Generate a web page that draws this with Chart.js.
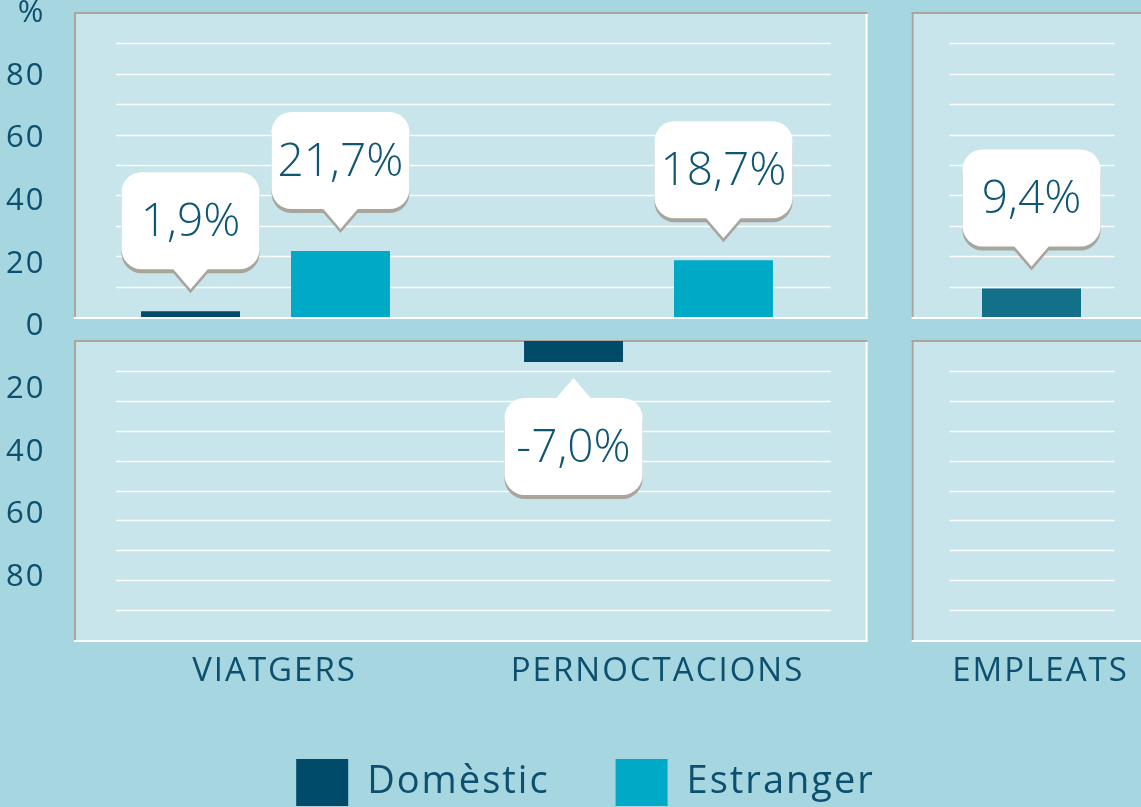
<!DOCTYPE html>
<html>
<head>
<meta charset="utf-8">
<script src="https://cdn.jsdelivr.net/npm/chart.js@4"></script>
<style>
  html, body { margin: 0; padding: 0; width: 1141px; height: 807px; overflow: hidden; background: #a6d7e1; }
  #wrap { position: absolute; left: -52.5px; top: 0; width: 1275px; height: 807px; }
</style>
</head>
<body>
<div id="wrap"><canvas id="chart"></canvas></div>
<script>
const categories = ['VIATGERS', 'PERNOCTACIONS', 'EMPLEATS'];
const domesticValues = [1.9, -7.0, null];
const foreignValues = [21.7, 18.7, null];
const employeeValues = [null, null, 9.4];
const tickValues = [-80, -60, -40, -20, 0, 20, 40, 60, 80, 100];
const tickLabels = ['80', '60', '40', '20', '0', '20', '40', '60', '80', '%'];

const textColor = '#0d4f6e';
const domesticColor = '#004a6a';
const foreignColor = '#00a9c5';
const employeeColor = '#137089';

Chart.defaults.font.family = '"Open Sans", sans-serif';

// domestic values go on the top or bottom panel depending on sign
const domesticUp = domesticValues.map(v => (v !== null && v >= 0) ? v : null);
const domesticDown = domesticValues.map(v => (v !== null && v < 0) ? v : null);

function fmt(v) {
    return v.toFixed(1).replace('.', ',') + '%';
}

// the original lettering is a bit wider than plain Open Sans,
// set it for measuring and for drawing so both agree
const spacing = {
    id: 'spacing',
    beforeLayout(chart) { chart.ctx.letterSpacing = '2px'; },
    beforeDraw(chart) { chart.ctx.letterSpacing = '2px'; }
};

const panels = {
    id: 'panels',
    beforeDatasetsDraw(chart) {
        const {ctx, chartArea, scales} = chart;
        const x = scales.x;
        const w = x.getPixelForValue(1) - x.getPixelForValue(0);
        const cols = [
            [chartArea.left, x.getPixelForValue(1) + 0.572 * w, 42, 37],
            [x.getPixelForValue(2) - 0.313 * w, x.getPixelForValue(2) + 0.313 * w, 38, 37]
        ];
        const rows = [scales.yTop, scales.yBot];
        ctx.save();
        cols.forEach(c => {
            rows.forEach(s => {
                const l = c[0], r = c[1], t = s.top, b = s.bottom;
                ctx.fillStyle = '#c8e5eb';
                ctx.fillRect(l, t, r - l, b - t);
                ctx.fillStyle = '#aaa69e';
                ctx.fillRect(l, t - 1, r - l, 2);
                ctx.fillRect(l, t - 1, 2, b - t + 1);
                ctx.fillStyle = '#ffffff';
                ctx.fillRect(l, b, r - l, 2);
                ctx.fillRect(r - 2, t + 1, 2, b - t + 1);
                // grid lines
                ctx.strokeStyle = 'rgba(255,255,255,0.95)';
                ctx.lineWidth = 1.5;
                s.ticks.forEach(tk => {
                    if (tk.value === s.min || tk.value === s.max) return;
                    const y = Math.round(s.getPixelForValue(tk.value)) + 0.5;
                    ctx.beginPath();
                    ctx.moveTo(l + c[2], y);
                    ctx.lineTo(r - c[3], y);
                    ctx.stroke();
                });
            });
        });
        ctx.restore();
    }
};

function callout(ctx, cx, tip, dir, text) {
    const w = 138, h = 97, r = 20, pw = 18, ph = 20;
    const boxTop = dir < 0 ? tip - ph - h : tip + ph;
    const baseY = dir < 0 ? tip - ph - 1 : tip + ph + 1;
    const shape = (dy) => {
        ctx.beginPath();
        ctx.roundRect(cx - w / 2, boxTop + dy, w, h, r);
        ctx.fill();
        ctx.beginPath();
        ctx.moveTo(cx - pw, baseY + dy);
        ctx.lineTo(cx, tip + dy);
        ctx.lineTo(cx + pw, baseY + dy);
        ctx.closePath();
        ctx.fill();
    };
    ctx.fillStyle = '#a9a59c';
    shape(4);
    ctx.fillStyle = '#ffffff';
    shape(0);
    ctx.letterSpacing = '0px';
    ctx.fillStyle = '#0e5674';
    ctx.font = '300 46px "Open Sans"';
    ctx.textAlign = 'center';
    ctx.textBaseline = 'middle';
    ctx.fillText(text, cx, boxTop + h / 2 + 2);
}

const labels = {
    id: 'labels',
    afterDatasetsDraw(chart) {
        const ctx = chart.ctx;
        ctx.save();
        chart.data.datasets.forEach((ds, i) => {
            const meta = chart.getDatasetMeta(i);
            meta.data.forEach((bar, j) => {
                const v = ds.data[j];
                if (v === null) return;
                if (v >= 0) {
                    callout(ctx, bar.x, bar.y - 22, -1, fmt(v));
                } else {
                    callout(ctx, bar.x, bar.y + 16, 1, fmt(v));
                }
            });
        });
        ctx.restore();
    }
};

const hiddenAxis = {
    position: 'left',
    stack: 'panel',
    grid: { display: false, drawTicks: false },
    border: { display: false },
    ticks: { display: false }
};

new Chart(document.getElementById('chart'), {
    type: 'bar',
    data: {
        labels: categories,
        datasets: [
            { label: 'Domèstic', data: domesticUp, backgroundColor: domesticColor, yAxisID: 'yTop', stack: 'a' },
            { label: 'Domèstic', data: domesticDown, backgroundColor: domesticColor, yAxisID: 'yBot', stack: 'b', inLegend: false },
            { label: 'Estranger', data: foreignValues, backgroundColor: foreignColor, yAxisID: 'yTop', stack: 'c' },
            { label: 'Empleats', data: employeeValues, backgroundColor: employeeColor, yAxisID: 'yTop', stack: 'd', inLegend: false }
        ]
    },
    options: {
        responsive: true,
        maintainAspectRatio: false,
        animation: false,
        skipNull: true,
        categoryPercentage: 0.783,
        barPercentage: 0.66,
        maxBarThickness: 99,
        layout: { padding: { top: 13, left: 0, right: 0, bottom: -9 } },
        scales: {
            x: {
                type: 'category',
                offset: true,
                grid: { display: false, drawTicks: false },
                border: { display: false },
                ticks: {
                    color: textColor,
                    font: { size: 33 },
                    padding: 12,
                    labelOffset: 9
                },
                afterFit(s) {
                    s.height = 53;
                    s.paddingLeft = 0;
                    s.paddingRight = 0;
                }
            },
            yLbl: {
                type: 'linear',
                position: 'left',
                weight: 2,
                min: -100,
                max: 100,
                grid: { display: false, drawTicks: false },
                border: { display: false },
                afterBuildTicks(s) {
                    s.ticks = tickValues.map(v => ({ value: v }));
                },
                ticks: {
                    color: textColor,
                    font: { size: 31, lineHeight: 0.8 },
                    padding: 28.5,
                    callback: (v) => tickLabels[tickValues.indexOf(v)]
                },
                afterFit(s) {
                    s.width = 126;
                    s.paddingTop = 0;
                    s.paddingBottom = 0;
                }
            },
            yBot: Object.assign({}, hiddenAxis, { type: 'linear', min: -100, max: 0, stackWeight: 299, ticks: { display: false, stepSize: 10 } }),
            yGap: Object.assign({}, hiddenAxis, { type: 'linear', min: 0, max: 1, stackWeight: 24 }),
            yTop: Object.assign({}, hiddenAxis, { type: 'linear', min: 0, max: 100, stackWeight: 304, ticks: { display: false, stepSize: 10 } })
        },
        plugins: {
            tooltip: { enabled: false },
            legend: {
                position: 'bottom',
                labels: {
                    boxWidth: 52,
                    boxHeight: 47,
                    padding: 66,
                    color: textColor,
                    font: { size: 38 },
                    filter: (item, data) => data.datasets[item.datasetIndex].inLegend !== false
                }
            }
        }
    },
    plugins: [spacing, panels, labels]
});
</script>
</body>
</html>
